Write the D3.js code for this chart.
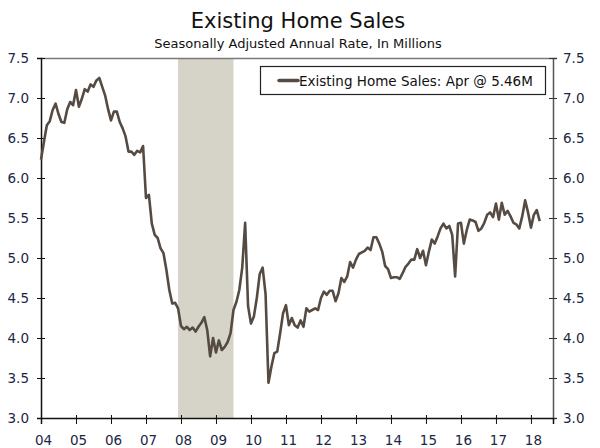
<!DOCTYPE html>
<html>
<head>
<meta charset="utf-8">
<script src="https://cdn.jsdelivr.net/npm/d3@7"></script>
<style>
  body { margin: 0; background: #fff; }
  text { font-family: Verdana, "DejaVu Sans", sans-serif; }
</style>
</head>
<body>
<div id="chart"></div>
<script>
// Existing home sales, SAAR in millions, monthly Jan 2004 - Apr 2018
const sales04 = [6.23, 6.45, 6.66, 6.71, 6.85, 6.93, 6.80, 6.70, 6.69, 6.86, 6.95, 6.91];
const sales05 = [7.10, 6.89, 6.99, 7.11, 7.08, 7.17, 7.14, 7.22, 7.25, 7.14, 7.03, 6.86];
const sales06 = [6.72, 6.83, 6.83, 6.70, 6.62, 6.52, 6.33, 6.33, 6.29, 6.34, 6.32, 6.40];
const sales07 = [5.75, 5.79, 5.43, 5.29, 5.25, 5.12, 5.06, 4.85, 4.60, 4.43, 4.44, 4.37];
const sales08 = [4.15, 4.11, 4.14, 4.10, 4.13, 4.08, 4.14, 4.19, 4.26, 4.10, 3.77, 4.00];
const sales09 = [3.82, 3.97, 3.85, 3.89, 3.95, 4.06, 4.35, 4.45, 4.60, 4.88, 5.44, 4.40];
const sales10 = [4.18, 4.27, 4.50, 4.80, 4.88, 4.55, 3.44, 3.64, 3.81, 3.83, 4.06, 4.31];
const sales11 = [4.41, 4.16, 4.25, 4.16, 4.13, 4.22, 4.14, 4.37, 4.33, 4.35, 4.37, 4.35];
const sales12 = [4.50, 4.58, 4.54, 4.59, 4.59, 4.46, 4.56, 4.75, 4.70, 4.77, 4.95, 4.88];
const sales13 = [4.98, 5.05, 5.07, 5.09, 5.13, 5.10, 5.26, 5.26, 5.18, 5.08, 4.90, 4.86];
const sales14 = [4.75, 4.76, 4.76, 4.74, 4.81, 4.89, 4.93, 4.98, 4.98, 5.11, 5.00, 5.09];
const sales15 = [4.91, 5.08, 5.23, 5.18, 5.27, 5.37, 5.43, 5.37, 5.40, 5.29, 4.77, 5.43];
const sales16 = [5.44, 5.18, 5.35, 5.48, 5.47, 5.45, 5.34, 5.37, 5.44, 5.54, 5.57, 5.51];
const sales17 = [5.68, 5.48, 5.69, 5.54, 5.59, 5.52, 5.44, 5.42, 5.37, 5.52, 5.72, 5.57];
const sales18 = [5.38, 5.54, 5.60, 5.46];

const startYear = 2004;
const yearLabels = ["04", "05", "06", "07", "08", "09", "10", "11", "12", "13", "14", "15", "16", "17", "18"];
const yTicks = [3.0, 3.5, 4.0, 4.5, 5.0, 5.5, 6.0, 6.5, 7.0, 7.5];
const recession = [2007 + 11 / 12, 2009.5];
const legendLabel = "Existing Home Sales: Apr @ 5.46M";

const allSales = [].concat(sales04, sales05, sales06, sales07, sales08, sales09, sales10,
  sales11, sales12, sales13, sales14, sales15, sales16, sales17, sales18);
const data = allSales.map((v, i) => ({t: startYear + i / 12, v: v}));

const totalWidth = 600, totalHeight = 448;
const margin = {top: 58, right: 47, bottom: 30, left: 41},
    width = totalWidth - margin.left - margin.right,
    height = totalHeight - margin.top - margin.bottom;

const lineColor = "#564b42";
const labelColor = "#1c2744";

const root = d3.select("#chart")
  .append("svg")
    .attr("width", totalWidth)
    .attr("height", totalHeight);

root.append("rect")
  .attr("width", totalWidth)
  .attr("height", totalHeight)
  .attr("fill", "#fff");

// titles
root.append("text")
  .attr("x", 298)
  .attr("y", 28)
  .attr("text-anchor", "middle")
  .style("font-size", "21px")
  .attr("fill", "#111")
  .text("Existing Home Sales");

root.append("text")
  .attr("x", 298)
  .attr("y", 48)
  .attr("text-anchor", "middle")
  .style("font-size", "13px")
  .attr("fill", "#111")
  .text("Seasonally Adjusted Annual Rate, In Millions");

const svg = root.append("g")
  .attr("transform", "translate(" + margin.left + "," + margin.top + ")");

const x = d3.scaleLinear()
  .domain([startYear, 2018.63])
  .range([0, width]);

const y = d3.scaleLinear()
  .domain([3, 7.5])
  .range([height, 0]);

// recession shading
svg.append("rect")
  .attr("x", x(recession[0]))
  .attr("y", 0)
  .attr("width", x(recession[1]) - x(recession[0]))
  .attr("height", height)
  .attr("fill", "#d6d4c8");

// top frame line
svg.append("line")
  .attr("x1", 0).attr("x2", width)
  .attr("y1", 0.5).attr("y2", 0.5)
  .attr("stroke", "#7a7a7a")
  .attr("stroke-width", 1.5);

// left axis
const yLeft = svg.append("g")
  .call(d3.axisLeft(y).tickValues(yTicks).tickFormat(d3.format(".1f")).tickSize(4).tickPadding(8));
yLeft.selectAll(".tick line").attr("x1", 4).attr("stroke", "#111");
yLeft.select(".domain").attr("stroke", "#111").attr("stroke-width", 1.5);

// right axis
const yRight = svg.append("g")
  .attr("transform", "translate(" + width + ",0)")
  .call(d3.axisRight(y).tickValues(yTicks).tickFormat(d3.format(".1f")).tickSize(4).tickPadding(6));
yRight.selectAll(".tick line").attr("x1", -4).attr("stroke", "#333");
yRight.select(".domain").attr("stroke", "#555").attr("stroke-width", 1.5);

// bottom axis
const xAxis = svg.append("g")
  .attr("transform", "translate(0," + height + ")")
  .call(d3.axisBottom(x)
    .tickValues(yearLabels.map((d, i) => startYear + i))
    .tickFormat((d, i) => yearLabels[i])
    .tickSize(6)
    .tickPadding(11));
xAxis.selectAll(".tick line").attr("y1", -3).attr("stroke", "#111");
xAxis.select(".domain").attr("stroke", "#111").attr("stroke-width", 1.5);
xAxis.selectAll(".tick text").attr("dx", 2);

svg.selectAll(".tick text")
  .style("font-size", "13.5px")
  .style("font-family", "Verdana, 'DejaVu Sans', sans-serif")
  .attr("fill", labelColor);

// series line
const line = d3.line()
  .x(d => x(d.t))
  .y(d => y(d.v));

svg.append("path")
  .datum(data)
  .attr("fill", "none")
  .attr("stroke", lineColor)
  .attr("stroke-width", 2.6)
  .attr("stroke-linejoin", "round")
  .attr("d", line);

// legend
const legend = root.append("g");
legend.append("rect")
  .attr("x", 260.5)
  .attr("y", 66.5)
  .attr("width", 285)
  .attr("height", 28)
  .attr("fill", "#fff")
  .attr("stroke", "#222")
  .attr("stroke-width", 1.2);
legend.append("line")
  .attr("x1", 279).attr("x2", 298)
  .attr("y1", 80.5).attr("y2", 80.5)
  .attr("stroke", lineColor)
  .attr("stroke-width", 3.5)
  .attr("stroke-linecap", "round");
legend.append("text")
  .attr("x", 299)
  .attr("y", 85.5)
  .style("font-size", "13.5px")
  .attr("fill", "#111")
  .text(legendLabel);
</script>
</body>
</html>
